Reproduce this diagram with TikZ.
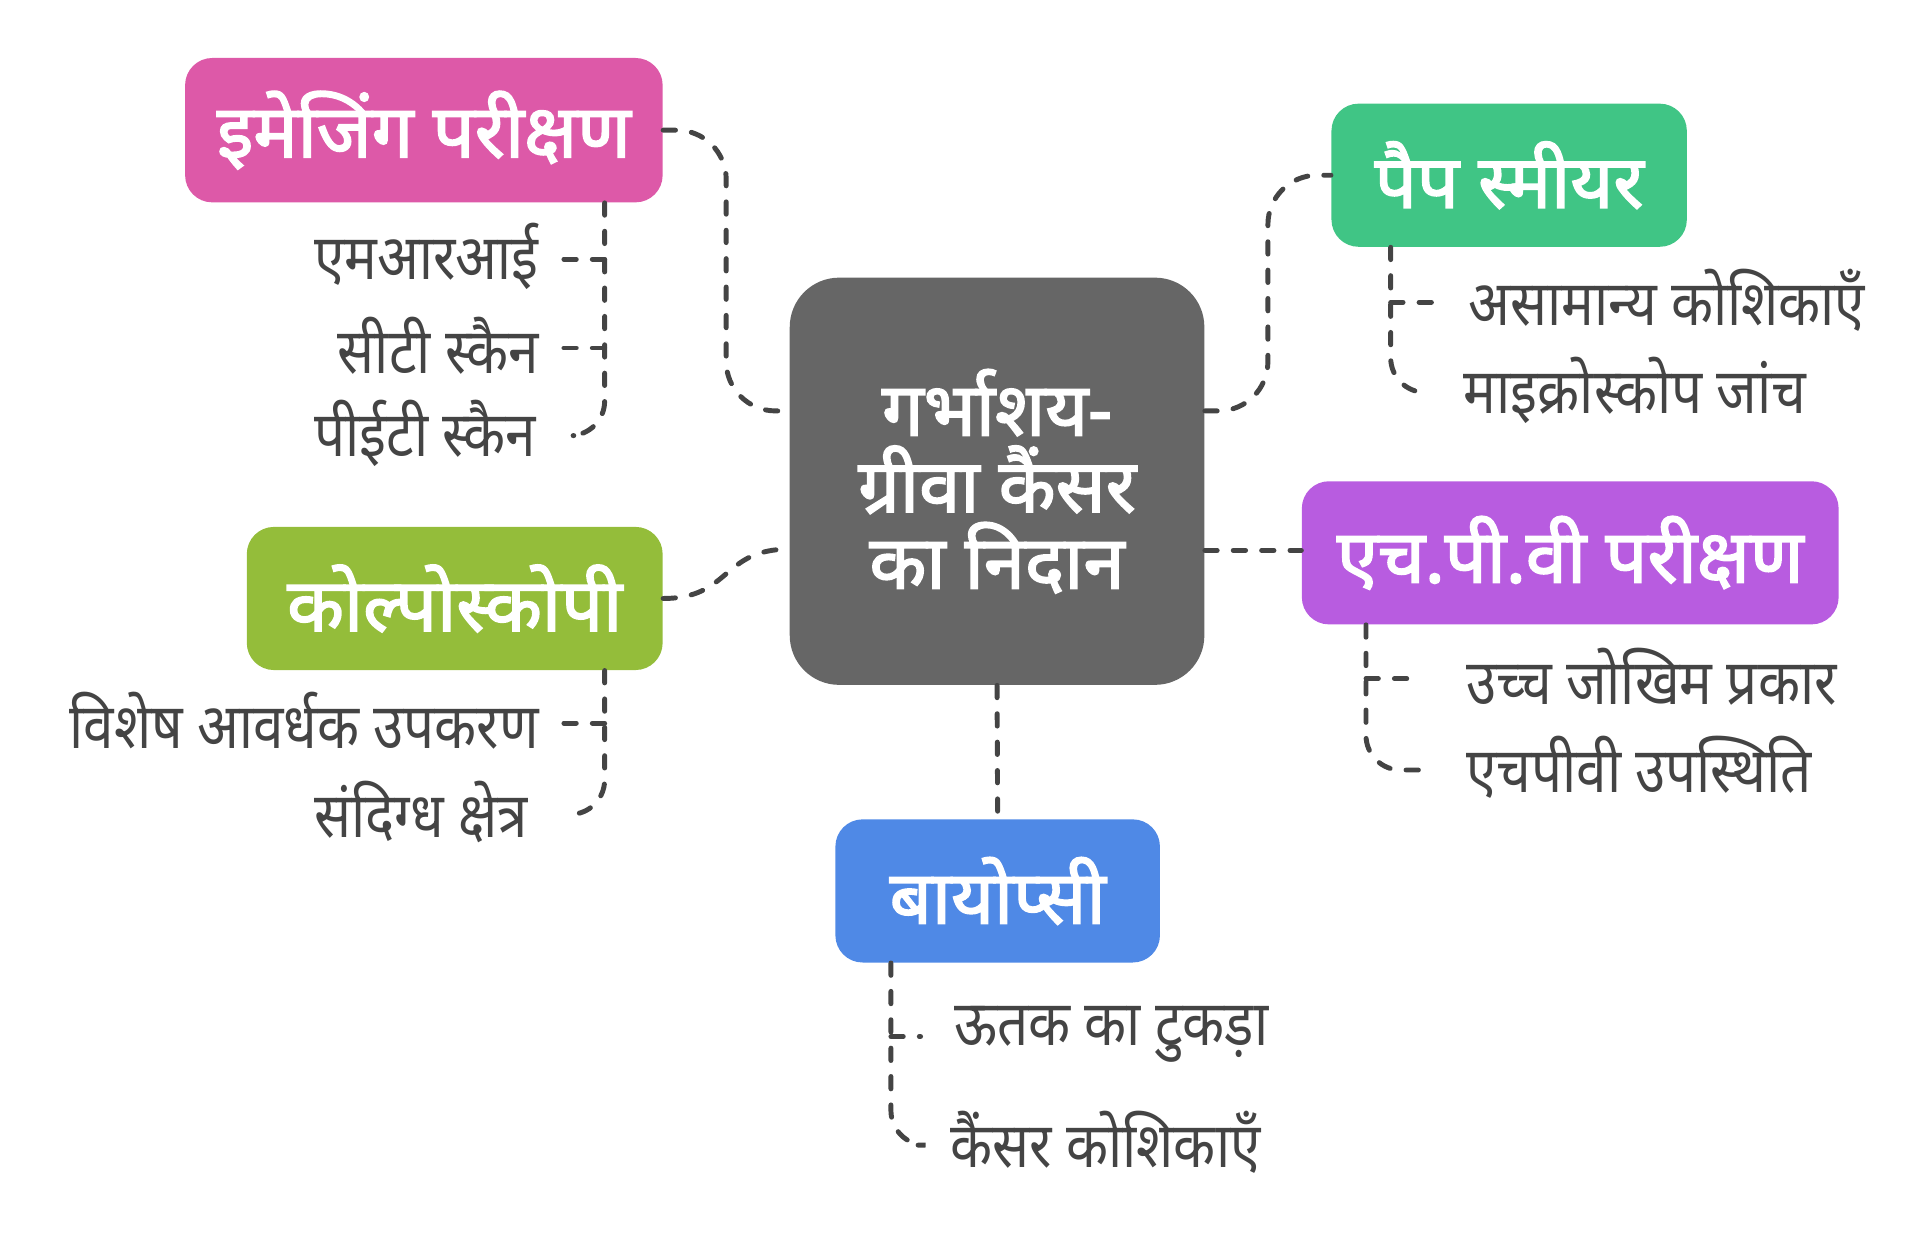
\documentclass[tikz,border=0pt]{standalone}
\usepackage{fontspec}
\newfontfamily\deva[Script=Devanagari, FakeStretch=0.87]{Noto Sans}
\newfontfamily\devab[Script=Devanagari, FakeBold=2.2]{Noto Sans}
\usetikzlibrary{calc}
\definecolor{cpink}{RGB}{221,89,168}
\definecolor{cgreen}{RGB}{64,197,133}
\definecolor{cgray}{RGB}{102,102,102}
\definecolor{cpurple}{RGB}{184,92,224}
\definecolor{colive}{RGB}{148,189,58}
\definecolor{cblue}{RGB}{79,137,230}
\definecolor{ctext}{RGB}{68,68,68}
\definecolor{cline}{RGB}{68,68,68}
\begin{document}
\begin{tikzpicture}[x=0.5pt,y=-0.5pt,
  box/.style={rounded corners=11pt, text=white, inner sep=0pt, align=center,
    font=\devab\fontsize{30}{31}\selectfont},
  leaf/.style={text=ctext, inner sep=0pt, font=\deva\fontsize{25.5}{27}\selectfont},
  conn/.style={draw=cline, line width=2pt, line cap=round, dash pattern=on 5pt off 6.5pt}]
\useasboundingbox (0,0) rectangle (1560,1000.8);

% main boxes
\node[box, fill=cgray, rounded corners=20pt, minimum width=168pt, minimum height=165pt] (ctr) at (808,390)
  {गर्भाशय-\\ग्रीवा कैंसर\\का निदान};
\node[box, fill=cpink, minimum width=193.5pt, minimum height=58.5pt] (img) at (343.5,105.5) {इमेजिंग परीक्षण};
\node[box, fill=cgreen, minimum width=144pt, minimum height=58pt] (pap) at (1223,142) {पैप स्मीयर};
\node[box, fill=cpurple, minimum width=217.5pt, minimum height=58pt] (hpv) at (1272.5,448) {एच.पी.वी परीक्षण};
\node[box, fill=colive, minimum width=168.5pt, minimum height=58pt] (col) at (368.5,485) {कोल्पोस्कोपी};
\node[box, fill=cblue, minimum width=131.5pt, minimum height=58pt] (bio) at (808.5,722) {बायोप्सी};

% leaves
\node[leaf, anchor=east] (l1) at (437,208) {एमआरआई};
\node[leaf, anchor=east] (l2) at (437,280) {सीटी स्कैन};
\node[leaf, anchor=east] (l3) at (435,351) {पीईटी स्कैन};
\node[leaf, anchor=west] (p1) at (1190,243) {असामान्य कोशिकाएँ};
\node[leaf, anchor=west] (p2) at (1186,316) {माइक्रोस्कोप जांच};
\node[leaf, anchor=west] (h1) at (1188,548) {उच्च जोखिम प्रकार};
\node[leaf, anchor=west] (h2) at (1188,622) {एचपीवी उपस्थिति};
\node[leaf, anchor=east] (c1) at (437,584) {विशेष आवर्धक उपकरण};
\node[leaf, anchor=east] (c2) at (428,658) {संदिग्ध क्षेत्र};
\node[leaf, anchor=west] (b1) at (773,838) {ऊतक का टुकड़ा};
\node[leaf, anchor=west] (b2) at (770,926) {कैंसर कोशिकाएँ};

% main connectors
\coordinate (cw1) at ($(ctr.west)+(0,-57)$);
\coordinate (cw2) at ($(ctr.west)+(0,55)$);
\coordinate (ce1) at ($(ctr.east)+(0,-57)$);
\coordinate (ce2) at ($(ctr.east)+(0,56)$);
\draw[conn, rounded corners=20pt] (img.east) -| ($(img.east)!0.5!(cw1)$) |- (cw1);
\draw[conn] (col.east) .. controls ($(col.east)+(55,0)$) and ($(cw2)+(-55,0)$) .. (cw2);
\draw[conn, rounded corners=20pt] (ce1) -| ($(ce1)!0.5!(pap.west)$) |- (pap.west);
\draw[conn] (ce2) -- (hpv.west |- ce2);
\draw[conn] (ctr.south) -- (bio.north);

% leaf connectors
\coordinate (vi) at (490,0);
\draw[conn, rounded corners=14pt] (img.south -| vi) -- (490,353) -- (465,353);
\draw[conn] (490,210) -- (455,210);
\draw[conn] (490,282) -- (455,282);

\coordinate (vp) at (1127,0);
\draw[conn, rounded corners=14pt] (pap.south -| vp) -- (1127,318) -- (1156,318);
\draw[conn] (1127,245) -- (1165,245);

\coordinate (vh) at (1107,0);
\draw[conn, rounded corners=14pt] (hpv.south -| vh) -- (1107,624) -- (1160,624);
\draw[conn] (1107,550) -- (1152,550);

\coordinate (vc) at (490,0);
\draw[conn, rounded corners=14pt] (col.south -| vc) -- (490,660) -- (465,660);
\draw[conn] (490,586) -- (455,586);

\coordinate (vb) at (722,0);
\draw[conn, rounded corners=14pt] (bio.south -| vb) -- (722,928) -- (744,928);
\draw[conn] (722,840) -- (746,840);
\end{tikzpicture}
\end{document}
